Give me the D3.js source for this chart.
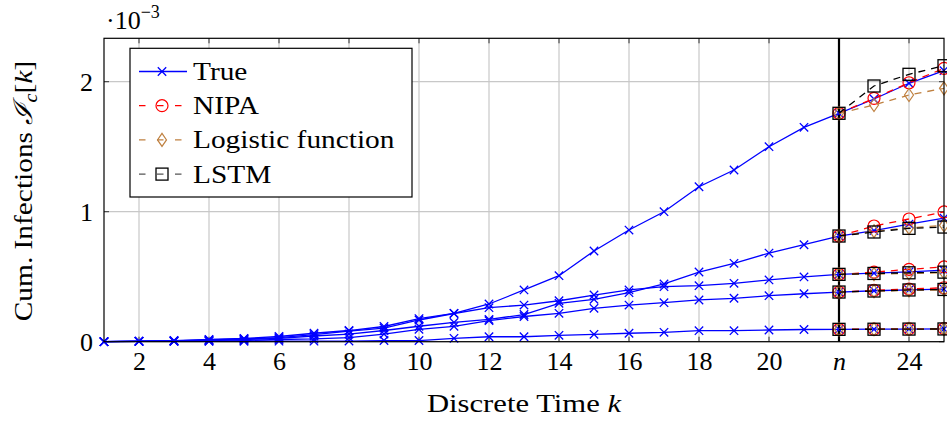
<!DOCTYPE html>
<html><head><meta charset="utf-8">
<script src="https://cdn.jsdelivr.net/npm/d3@7/dist/d3.min.js"></script>
<style>
body{margin:0;background:#fff}
svg{display:block}
svg text{font-family:'Liberation Serif','Tinos','Times New Roman','DejaVu Serif',serif !important;fill:#000}
</style>
</head><body>
<svg id="chart" width="947" height="423"></svg>
<script>
// ---------- data (values in units of 1e-3) ----------
const steps = [1,2,3,4,5,6,7,8,9,10,11,12,13,14,15,16,17,18,19,20,21,22,23,24,25];
const predSteps = [22,23,24,25];

const trueA = [0,0.005,0.009,0.017,0.025,0.040,0.065,0.086,0.117,0.178,0.218,0.290,0.398,0.508,0.698,0.859,1.000,1.192,1.321,1.500,1.649,1.757,1.867,1.988,2.085];
const trueB = [0,0.003,0.005,0.009,0.017,0.025,0.044,0.059,0.086,0.119,0.148,0.171,0.209,0.295,0.326,0.377,0.444,0.536,0.603,0.682,0.746,0.813,0.855,0.905,0.950];
const trueC = [0,0.004,0.007,0.013,0.021,0.032,0.055,0.082,0.105,0.167,0.217,0.262,0.282,0.315,0.359,0.398,0.423,0.431,0.449,0.475,0.498,0.518,0.527,0.537,0.550];
const trueD = [0,0.002,0.004,0.005,0.009,0.017,0.021,0.032,0.059,0.095,0.118,0.162,0.194,0.218,0.257,0.282,0.300,0.321,0.334,0.354,0.369,0.382,0.392,0.398,0.405];
const trueE = [0,0.002,0.002,0.003,0.003,0.004,0.004,0.005,0.009,0.009,0.026,0.038,0.038,0.049,0.057,0.065,0.072,0.085,0.085,0.090,0.094,0.095,0.096,0.097,0.098];

const nipaA = [1.757,1.872,1.992,2.103];
const nipaB = [0.813,0.890,0.944,0.998];
const nipaC = [0.518,0.535,0.557,0.575];
const nipaD = [0.382,0.395,0.405,0.415];
const nipaE = [0.095,0.097,0.099,0.100];

const logA = [1.757,1.821,1.898,1.949];
const logB = [0.813,0.850,0.875,0.895];
const logC = [0.518,0.520,0.525,0.530];
const logD = [0.382,0.388,0.395,0.398];
const logE = [0.095,0.096,0.097,0.098];

const lstmA = [1.757,1.967,2.057,2.123];
const lstmB = [0.813,0.844,0.872,0.882];
const lstmC = [0.518,0.525,0.530,0.535];
const lstmD = [0.382,0.390,0.398,0.402];
const lstmE = [0.095,0.096,0.097,0.098];

const xTicks = [2,4,6,8,10,12,14,16,18,20,22,24];
const xTickLabels = ["2","4","6","8","10","12","14","16","18","20","n","24"];
const yTicks = [0,1,2];
const yTickLabels = ["0","1","2"];
const splitStep = 22;

const legendNames = ["True","NIPA","Logistic function","LSTM"];
const colors = {True:"#0000ff", NIPA:"#ff0000", Logistic:"#bf8040", LSTM:"#000000"};

// ---------- layout ----------
const L = 104, R = 944, T = 38.3, B = 341.7;
const svg = d3.select("#chart");
const x = d3.scaleLinear().domain([1,25]).range([L,R]);
const y = d3.scaleLinear().domain([0,2.334]).range([B,T]);

// stretch text horizontally to emulate the wider Computer Modern face
function widen(sel, factor, ax, ay, rot){
  const r = rot ? ` rotate(${rot})` : "";
  sel.attr("transform", `translate(${ax},${ay})${r} scale(${factor},1) translate(${-ax},${-ay})`);
}

// grid
const g = svg.append("g");
g.selectAll(".vg").data(xTicks).join("line")
  .attr("x1",d=>x(d)).attr("x2",d=>x(d)).attr("y1",T).attr("y2",B)
  .attr("stroke","#c8c8c8").attr("stroke-width",1.2);
g.selectAll(".hg").data(yTicks).join("line")
  .attr("x1",L).attr("x2",R).attr("y1",d=>y(d)).attr("y2",d=>y(d))
  .attr("stroke","#c8c8c8").attr("stroke-width",1.2);

// axes with labels
const xAxis = d3.axisBottom(x).tickValues(xTicks)
  .tickFormat((d,i)=>xTickLabels[i]).tickSize(0).tickPadding(10);
const xg = svg.append("g").attr("transform",`translate(0,${B})`).call(xAxis);
xg.attr("font-family",null);
xg.select(".domain").remove();
xg.selectAll("text").attr("font-size",26).attr("dy","0.71em")
  .attr("font-style",(d,i)=>xTickLabels[i]==="n"?"italic":"normal");

const yAxis = d3.axisLeft(y).tickValues(yTicks)
  .tickFormat((d,i)=>yTickLabels[i]).tickSize(0).tickPadding(11);
const yg = svg.append("g").attr("transform",`translate(${L},0)`).call(yAxis);
yg.attr("font-family",null);
yg.select(".domain").remove();
yg.selectAll("text").attr("font-size",26);

// inward tick marks
const tk = svg.append("g").attr("stroke","#333").attr("stroke-width",1);
xTicks.forEach(v=>{
  tk.append("line").attr("x1",x(v)).attr("x2",x(v)).attr("y1",B).attr("y2",B-5);
  tk.append("line").attr("x1",x(v)).attr("x2",x(v)).attr("y1",T).attr("y2",T+5);
});
yTicks.forEach(v=>{
  tk.append("line").attr("x1",L).attr("x2",L+5).attr("y1",y(v)).attr("y2",y(v));
  tk.append("line").attr("x1",R).attr("x2",R-5).attr("y1",y(v)).attr("y2",y(v));
});

// split line at n
svg.append("line").attr("x1",x(splitStep)).attr("x2",x(splitStep)).attr("y1",T).attr("y2",B)
  .attr("stroke","#000").attr("stroke-width",2.2);

// markers
function markX(sel,c){ sel.append("path").attr("d","M-4.2,-4.2L4.2,4.2M-4.2,4.2L4.2,-4.2").attr("stroke",c).attr("stroke-width",1.3).attr("fill","none"); }
function markO(sel,c){ sel.append("circle").attr("r",6).attr("stroke",c).attr("stroke-width",1.2).attr("fill","none"); }
function markD(sel,c){ sel.append("path").attr("d","M0,-6.5L4.5,0L0,6.5L-4.5,0Z").attr("stroke",c).attr("stroke-width",1.2).attr("fill","none"); }
function markS(sel,c){ sel.append("rect").attr("x",-6).attr("y",-6).attr("width",12).attr("height",12).attr("stroke",c).attr("stroke-width",1.3).attr("fill","none"); }

const line = d3.line().x(d=>x(d[0])).y(d=>y(d[1]));
const plot = svg.append("g");

function drawSeries(ks, vals, color, dash, marker){
  const pts = ks.map((k,i)=>[k, vals[i]]);
  plot.append("path").attr("d",line(pts)).attr("fill","none").attr("stroke",color)
    .attr("stroke-width",1.3).attr("stroke-dasharray",dash||null);
  pts.forEach(p=>{
    const m = plot.append("g").attr("transform",`translate(${x(p[0])},${y(p[1])})`);
    marker(m,color);
  });
}

[trueA,trueB,trueC,trueD,trueE].forEach(s=>drawSeries(steps,s,colors.True,null,markX));
[nipaA,nipaB,nipaC,nipaD,nipaE].forEach(s=>drawSeries(predSteps,s,colors.NIPA,"7,6",markO));
[logA,logB,logC,logD,logE].forEach(s=>drawSeries(predSteps,s,colors.Logistic,"7,6",markD));
[lstmA,lstmB,lstmC,lstmD,lstmE].forEach(s=>drawSeries(predSteps,s,colors.LSTM,"7,6",markS));

// frame
svg.append("rect").attr("x",L).attr("y",T).attr("width",R-L).attr("height",B-T)
  .attr("fill","none").attr("stroke","#000").attr("stroke-width",1.2);

// legend
const lg = svg.append("g");
lg.append("rect").attr("x",130).attr("y",48.3).attr("width",282).attr("height",148.7)
  .attr("fill","#fff").attr("stroke","#000").attr("stroke-width",1.2);
const legColors = [colors.True,colors.NIPA,colors.Logistic,colors.LSTM];
const legMarks = [markX,markO,markD,markS];
legendNames.forEach((name,i)=>{
  const cy = 71.5 + i*34.2;
  lg.append("line").attr("x1",139).attr("x2",187).attr("y1",cy).attr("y2",cy)
    .attr("stroke",i===3?"#555":legColors[i]).attr("stroke-width",1.3)
    .attr("stroke-dasharray",i===0?null:"6.5,11.5");
  const m = lg.append("g").attr("transform",`translate(162,${cy})`);
  legMarks[i](m,legColors[i]);
  const t = lg.append("text").attr("x",193).attr("y",cy).attr("dy","0.33em")
    .attr("font-size",26).text(name);
  widen(t, 1.13, 193, cy);
});

// exponent label
const ex = svg.append("text").attr("x",106).attr("y",29).attr("font-size",26);
ex.append("tspan").text("·10");
ex.append("tspan").attr("dy",-11).attr("font-size",18).text("−3");

// axis titles
const cx = (L+R)/2;
const xt = svg.append("text").attr("x",cx).attr("y",412).attr("text-anchor","middle")
  .attr("font-size",26)
  .call(t=>{ t.append("tspan").text("Discrete Time "); t.append("tspan").attr("font-style","italic").text("k"); });
widen(xt, 1.18, cx, 412);

const yl = svg.append("text").attr("x",0).attr("y",0)
  .attr("text-anchor","middle").attr("font-size",26)
  .attr("transform","translate(32,191) rotate(-90) scale(1.13,1)");
yl.append("tspan").text("Cum. Infections ");
yl.append("tspan").attr("font-style","italic").text("ℐ");
yl.append("tspan").attr("font-style","italic").attr("font-size",18).attr("dy",5).text("c");
yl.append("tspan").attr("dy",-5).text("[");
yl.append("tspan").attr("font-style","italic").text("k");
yl.append("tspan").text("]");
</script>
</body></html>
